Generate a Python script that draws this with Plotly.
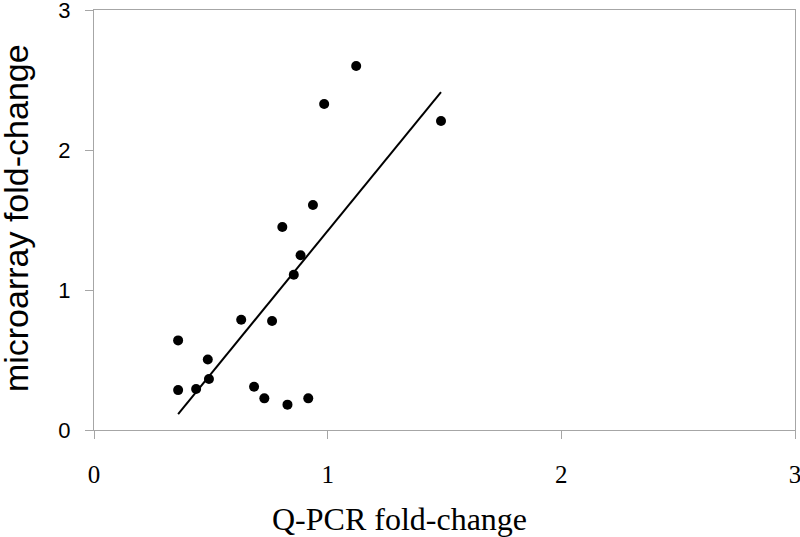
import plotly.graph_objects as go

qpcr = [0.36, 0.36, 0.437, 0.487, 0.492, 0.63, 0.685, 0.729, 0.762, 0.806,
        0.828, 0.855, 0.884, 0.917, 0.937, 0.985, 1.122, 1.485]
microarray = [0.64, 0.285, 0.293, 0.503, 0.364, 0.788, 0.309, 0.226, 0.779, 1.45,
              0.181, 1.109, 1.248, 0.226, 1.607, 2.329, 2.6, 2.207]
trend_x = [0.36, 1.485]
trend_y = [0.114, 2.414]

x_ticks = [0, 1, 2, 3]
y_ticks = [0, 1, 2, 3]

fig = go.Figure()
fig.add_trace(go.Scatter(x=trend_x, y=trend_y, mode="lines",
                         line=dict(color="black", width=2), showlegend=False,
                         hoverinfo="skip"))
fig.add_trace(go.Scatter(x=qpcr, y=microarray, mode="markers",
                         marker=dict(color="black", size=10), showlegend=False))

axis_common = dict(showgrid=False, zeroline=False, showline=True, mirror=True,
                   linecolor="#a6a6a6", linewidth=1, ticks="outside",
                   ticklen=8, tickcolor="#a6a6a6", tickwidth=1,
                   automargin=False, ticklabeloverflow="allow")

fig.update_layout(
    width=800, height=537,
    margin=dict(l=94, r=5, t=10, b=107),
    paper_bgcolor="white", plot_bgcolor="white",
    xaxis=dict(range=[0, 3], tickvals=x_ticks, ticktext=[str(v) for v in x_ticks],
               tickfont=dict(family="Liberation Serif", size=25, color="black"),
               ticklabelstandoff=14,
               **axis_common),
    yaxis=dict(range=[0, 3], tickvals=y_ticks, ticktext=[str(v) for v in y_ticks],
               tickfont=dict(family="Liberation Sans", size=22, color="black"),
               ticklabelstandoff=10,
               **axis_common),
    annotations=[
        dict(text="Q-PCR fold-change", xref="paper", yref="paper",
             x=0.4365, y=-0.212, xanchor="center", yanchor="middle",
             showarrow=False,
             font=dict(family="Liberation Serif", size=32, color="black")),
        dict(text="microarray fold-change", xref="paper", yref="paper",
             x=-0.111, y=0.505, xanchor="center", yanchor="middle",
             textangle=-90, showarrow=False,
             font=dict(family="Liberation Sans", size=34, color="black")),
    ],
)

fig.write_html(
    "out.html",
    config={"displayModeBar": False},
    post_script="document.body.style.margin='0';document.body.style.overflow='hidden';",
)
